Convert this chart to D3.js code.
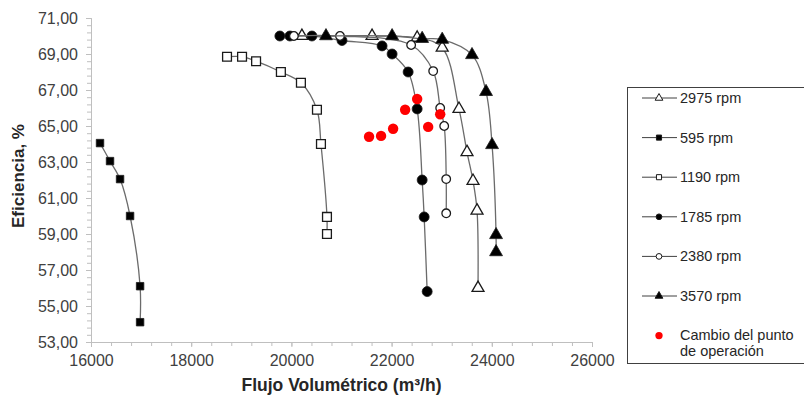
<!DOCTYPE html>
<html lang="es">
<head>
    <meta charset="UTF-8">
    <title>Eficiencia vs Flujo Volumétrico</title>
    <style>
        body { margin: 0; background: #fff; }
        text { font-family: "Liberation Sans", Arial, sans-serif; }
        .tick-label { font-size: 16px; fill: #404040; }
        .axis-title { font-size: 17px; font-weight: bold; fill: #262626; }
        .legend-label { font-size: 14.5px; fill: #262626; }
    </style>
</head>
<body>
    <svg width="804" height="396"></svg>
    <script src="https://d3js.org/d3.v7.min.js"></script>
    <script>
        // series data
        var seriesNames = ["2975 rpm", "595 rpm", "1190 rpm", "1785 rpm", "2380 rpm", "3570 rpm", "Cambio del punto de operación"];

        var flow2975 = [20210, 21610, 22510, 23010, 23345, 23505, 23625, 23705, 23725];
        var eff2975 = [70.0, 70.0, 69.9, 69.35, 65.95, 63.55, 61.95, 60.3, 56.0];

        var flow595 = [16180, 16380, 16580, 16780, 16980, 16980];
        var eff595 = [64.05, 63.05, 62.05, 60.0, 56.1, 54.1];

        var flow1190 = [18715, 19015, 19295, 19790, 20190, 20510, 20590, 20710, 20710];
        var eff1190 = [68.85, 68.85, 68.6, 68.0, 67.4, 65.9, 64.0, 59.95, 59.0];

        var flow1785 = [19770, 19970, 20410, 21010, 21810, 22010, 22330, 22510, 22610, 22650, 22710];
        var eff1785 = [70.0, 70.0, 70.0, 69.75, 69.45, 69.0, 68.0, 65.95, 62.0, 59.95, 55.8];

        var flow2380 = [20050, 20970, 22390, 22830, 22970, 23050, 23090, 23090];
        var eff2380 = [70.0, 70.0, 69.5, 68.05, 66.0, 65.0, 62.05, 60.15];

        var flow3570 = [20690, 22010, 22610, 23010, 23605, 23885, 24005, 24085, 24085];
        var eff3570 = [70.0, 70.0, 69.85, 69.8, 68.95, 66.9, 63.95, 58.95, 58.0];

        var flowCambio = [21550, 21790, 22030, 22270, 22510, 22730, 22970];
        var effCambio = [64.4, 64.45, 64.85, 65.9, 66.5, 64.95, 65.65];

        var xTicks = [16000, 18000, 20000, 22000, 24000, 26000];
        var yTicks = [53, 55, 57, 59, 61, 63, 65, 67, 69, 71];

        function zip(xs, ys) {
            return xs.map(function (x, i) { return { x: x, y: ys[i] }; });
        }

        var series = [
            { name: seriesNames[0], pts: zip(flow2975, eff2975), shape: d3.symbolTriangle, size: 62, fill: "#fff", line: true },
            { name: seriesNames[1], pts: zip(flow595, eff595), shape: d3.symbolSquare, size: 56, fill: "#000", line: true },
            { name: seriesNames[2], pts: zip(flow1190, eff1190), shape: d3.symbolSquare, size: 78, fill: "#fff", line: true },
            { name: seriesNames[3], pts: zip(flow1785, eff1785), shape: d3.symbolCircle, size: 78, fill: "#000", line: true },
            { name: seriesNames[4], pts: zip(flow2380, eff2380), shape: d3.symbolCircle, size: 58, fill: "#fff", line: true },
            { name: seriesNames[5], pts: zip(flow3570, eff3570), shape: d3.symbolTriangle, size: 72, fill: "#000", line: true },
            { name: seriesNames[6], pts: zip(flowCambio, effCambio), shape: d3.symbolCircle, size: 85, fill: "#ff0000", line: false }
        ];

        var svg = d3.select("svg");
        var plotLeft = 91, plotRight = 592, plotTop = 18, plotBottom = 342;

        var x = d3.scaleLinear().domain([16000, 26000]).range([plotLeft, plotRight]);
        var y = d3.scaleLinear().domain([53, 71]).range([plotBottom, plotTop]);

        var axisColor = "#bfbfbf";
        var comma = function (v) { return d3.format(".2f")(v).replace(".", ","); };

        // x axis
        var xAxis = svg.append("g").attr("transform", "translate(0," + plotBottom + ")");
        xAxis.call(d3.axisBottom(x).tickValues(d3.range(16000, 26001, 400)).tickSize(4).tickFormat(""));
        xAxis.append("g").call(d3.axisBottom(x).tickValues(xTicks).tickSize(5).tickFormat(d3.format("d")));
        xAxis.selectAll("path, line").attr("stroke", axisColor);
        xAxis.selectAll("text").attr("class", "tick-label").attr("font-family", null).attr("font-size", null)
            .attr("fill", null).attr("dy", "1em");

        // y axis
        var yAxis = svg.append("g").attr("transform", "translate(" + plotLeft + ",0)");
        yAxis.call(d3.axisLeft(y).tickValues(d3.range(53, 71.01, 0.4)).tickSize(4).tickFormat(""));
        yAxis.append("g").call(d3.axisLeft(y).tickValues(yTicks).tickSize(5).tickFormat(comma));
        yAxis.selectAll("path, line").attr("stroke", axisColor);
        yAxis.selectAll("text").attr("class", "tick-label").attr("font-family", null).attr("font-size", null)
            .attr("fill", null).attr("x", -13);

        // axis titles
        svg.append("text").attr("class", "axis-title")
            .attr("x", (plotLeft + plotRight) / 2).attr("y", 391)
            .attr("text-anchor", "middle")
            .style("font-size", "17.5px")
            .text("Flujo Volumétrico (m³/h)");
        svg.append("text").attr("class", "axis-title")
            .attr("transform", "translate(24,176) rotate(-90)")
            .attr("text-anchor", "middle")
            .text("Eficiencia, %");

        var line = d3.line()
            .x(function (d) { return x(d.x); })
            .y(function (d) { return y(d.y); })
            .curve(d3.curveCatmullRom.alpha(0.5));

        series.forEach(function (s) {
            var g = svg.append("g");
            if (s.line) {
                g.append("path").datum(s.pts)
                    .attr("d", line)
                    .attr("fill", "none")
                    .attr("stroke", "#6b6b6b")
                    .attr("stroke-width", 1.3);
            }
            g.selectAll("path.mark").data(s.pts).enter().append("path")
                .attr("class", "mark")
                .attr("transform", function (d) { return "translate(" + x(d.x) + "," + y(d.y) + ")"; })
                .attr("d", d3.symbol().type(s.shape).size(s.size))
                .attr("fill", s.fill)
                .attr("stroke", s.fill === "#ff0000" ? "none" : "#1a1a1a")
                .attr("stroke-width", s.fill === "#fff" ? 1.3 : 0.8);
        });

        // legend (box runs past the right edge, as in the original)
        var legend = svg.append("g");
        legend.append("rect")
            .attr("x", 627.5).attr("y", 87.5).attr("width", 200).attr("height", 276)
            .attr("fill", "#fff").attr("stroke", "#404040").attr("stroke-width", 1);

        series.forEach(function (s, i) {
            var cy = 98 + i * 39.6;
            var item = legend.append("g");
            if (s.line) {
                item.append("line")
                    .attr("x1", 642).attr("x2", 677).attr("y1", cy).attr("y2", cy)
                    .attr("stroke", "#404040").attr("stroke-width", 1);
            }
            item.append("path")
                .attr("transform", "translate(659," + cy + ")")
                .attr("d", d3.symbol().type(s.shape).size(s.fill === "#ff0000" ? 42 : 26))
                .attr("fill", s.fill)
                .attr("stroke", s.fill === "#ff0000" ? "none" : "#1a1a1a")
                .attr("stroke-width", 1);
            if (s.line) {
                item.append("text").attr("class", "legend-label")
                    .attr("x", 680).attr("y", cy).attr("dy", "0.35em")
                    .text(s.name);
            } else {
                item.append("text").attr("class", "legend-label")
                    .attr("x", 680).attr("y", cy - 1).attr("dy", "0.35em")
                    .text("Cambio del punto");
                item.append("text").attr("class", "legend-label")
                    .attr("x", 680).attr("y", cy + 15).attr("dy", "0.35em")
                    .text("de operación");
            }
        });
    </script>
</body>
</html>
